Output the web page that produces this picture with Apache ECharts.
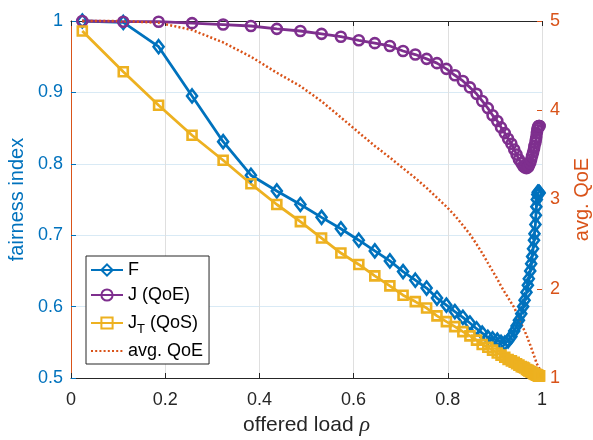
<!DOCTYPE html>
<html><head><meta charset="utf-8">
<script src="https://cdn.jsdelivr.net/npm/echarts@6/dist/echarts.min.js"></script>
<style>html,body{margin:0;padding:0;background:#fff}#c{width:593px;height:440px}</style>
</head><body><div id="c"></div>
<script>
// offered load (x values)
const rho = [0.024,0.111,0.186,0.257,0.323,0.382,0.437,0.487,0.532,0.573,
  0.611,0.645,0.677,0.705,0.731,0.755,0.777,0.797,0.815,0.832,
  0.847,0.861,0.873,0.885,0.895,0.905,0.913,0.921,0.928,0.935,
  0.941,0.946,0.951,0.956,0.960,0.963,0.967,0.970,0.972,0.975,
  0.977,0.979,0.981,0.983,0.984,0.986,0.987,0.988,0.989,0.990,
  0.991,0.992,0.993,0.994,0.995];
// F fairness
const fairF = [1.000,0.998,0.964,0.895,0.831,0.784,0.762,0.743,0.725,0.709,
  0.693,0.678,0.664,0.649,0.637,0.626,0.612,0.602,0.593,0.585,
  0.577,0.569,0.563,0.557,0.555,0.553,0.550,0.549,0.552,0.558,
  0.566,0.573,0.581,0.590,0.600,0.609,0.620,0.630,0.639,0.650,
  0.660,0.670,0.681,0.693,0.702,0.715,0.728,0.740,0.750,0.757,
  0.760,0.760,0.758,0.760,0.759];
// J (QoE)
const fairJ = [1.000,0.999,0.999,0.997,0.995,0.993,0.989,0.986,0.982,0.978,
  0.973,0.969,0.965,0.958,0.953,0.947,0.941,0.933,0.924,0.916,
  0.907,0.898,0.888,0.878,0.868,0.860,0.851,0.843,0.835,0.828,
  0.820,0.813,0.806,0.801,0.797,0.795,0.794,0.795,0.797,0.801,
  0.806,0.811,0.816,0.821,0.825,0.830,0.834,0.838,0.843,0.847,
  0.850,0.852,0.853,0.853,0.853];
// J_T (QoS)
const fairJT = [0.986,0.929,0.882,0.840,0.805,0.772,0.743,0.719,0.696,0.675,
  0.659,0.643,0.629,0.616,0.607,0.598,0.587,0.579,0.572,0.565,
  0.559,0.553,0.547,0.543,0.539,0.535,0.532,0.529,0.526,0.524,
  0.522,0.520,0.518,0.516,0.515,0.514,0.512,0.511,0.510,0.509,
  0.508,0.508,0.507,0.506,0.506,0.505,0.505,0.505,0.504,0.504,
  0.504,0.503,0.503,0.503,0.503];
// avg. QoE (right axis)
const avgQoE = [5.00,5.00,4.98,4.90,4.76,4.60,4.42,4.27,4.10,3.92,
  3.75,3.60,3.47,3.35,3.24,3.13,3.02,2.92,2.82,2.71,
  2.61,2.50,2.40,2.29,2.20,2.11,2.03,1.96,1.90,1.84,
  1.79,1.73,1.67,1.61,1.56,1.53,1.48,1.44,1.41,1.37,
  1.34,1.31,1.28,1.25,1.23,1.21,1.19,1.17,1.16,1.15,
  1.14,1.13,1.12,1.11,1.10];
const seriesNames = ['F','J (QoE)','JT','avg. QoE'];
const xRange = [0, 1, 0.2];
const yLeftRange = [0.5, 1, 0.1];
const yRightRange = [1, 5, 1];

const FONT = "'Liberation Sans', Arial, sans-serif";
const BLUE = '#0072BD', PURPLE = '#7E2F8E', YELLOW = '#EDB120', ORANGE = '#D95319', DARK = '#262626';
const pair = arr => rho.map((x, i) => [x, arr[i]]);

const chart = echarts.init(document.getElementById('c'), null, {renderer: 'canvas'});
chart.setOption({
  animation: false,
  backgroundColor: '#fff',
  grid: {left: 71, right: 51, top: 21, bottom: 62, containLabel: false, outerBoundsMode: 'none'},
  legend: {
    orient: 'vertical', left: 86, top: 256,
    padding: [4, 6, 3, 4], itemGap: 5, itemWidth: 32, itemHeight: 14,
    backgroundColor: '#fff', borderColor: DARK, borderWidth: 1,
    selectedMode: false,
    data: ['F', 'J (QoE)', 'JT',
      {name: 'avg. QoE', itemStyle: {color: 'rgba(0,0,0,0)', borderWidth: 0, opacity: 0}}],
    textStyle: {fontSize: 18, fontFamily: FONT, color: '#000', lineHeight: 20,
      rich: {
        n: {fontSize: 18, fontFamily: FONT, color: '#000', lineHeight: 26, verticalAlign: 'middle'},
        s: {fontSize: 13, fontFamily: FONT, color: '#000', lineHeight: 26, verticalAlign: 'bottom'}
      }},
    formatter: name => name === 'JT' ? '{n|J}{s|T}{n| (QoS)}' : name
  },
  xAxis: [{
    type: 'value', min: xRange[0], max: xRange[1], interval: xRange[2], position: 'bottom',
    name: 'offered load {i|ρ}', nameLocation: 'middle', nameGap: 31,
    nameTextStyle: {fontSize: 21, fontFamily: FONT, color: DARK,
      rich: {i: {fontSize: 22, fontFamily: "'Liberation Serif', serif", fontStyle: 'italic', color: DARK}}},
    axisLine: {show: true, lineStyle: {color: DARK, width: 1}},
    axisTick: {show: true, inside: true, length: 5, lineStyle: {color: DARK}},
    axisLabel: {fontSize: 18, fontFamily: FONT, color: DARK, margin: 13},
    splitLine: {show: true, lineStyle: {color: '#DFDFDF', width: 1}}
  }, {
    type: 'value', min: xRange[0], max: xRange[1], interval: xRange[2], position: 'top',
    axisLine: {show: true, lineStyle: {color: DARK, width: 1}},
    axisTick: {show: true, inside: true, length: 5, lineStyle: {color: DARK}},
    axisLabel: {show: false}, splitLine: {show: false}
  }],
  yAxis: [{
    type: 'value', min: yLeftRange[0], max: yLeftRange[1], interval: yLeftRange[2], position: 'left',
    name: 'fairness index', nameLocation: 'middle', nameGap: 44, nameRotate: 90,
    nameTextStyle: {fontSize: 20, fontFamily: FONT, color: BLUE},
    axisLine: {show: true, lineStyle: {color: BLUE, width: 1}},
    axisTick: {show: true, inside: true, length: 5, lineStyle: {color: BLUE}},
    axisLabel: {fontSize: 18, fontFamily: FONT, color: BLUE, margin: 8},
    splitLine: {show: true, lineStyle: {color: '#D9EAF5', width: 1}}
  }, {
    type: 'value', min: yRightRange[0], max: yRightRange[1], interval: yRightRange[2], position: 'right',
    name: 'avg. QoE', nameLocation: 'middle', nameGap: 30, nameRotate: 90,
    nameTextStyle: {fontSize: 20, fontFamily: FONT, color: ORANGE},
    axisLine: {show: true, lineStyle: {color: ORANGE, width: 1}},
    axisTick: {show: false},
    axisLabel: {fontSize: 18, fontFamily: FONT, color: ORANGE, margin: 8},
    splitLine: {show: false}
  }, {
    type: 'value', min: yRightRange[0], max: yRightRange[1], interval: yRightRange[2], position: 'right',
    axisLine: {show: false},
    axisTick: {show: true, inside: true, length: 5, lineStyle: {color: ORANGE}},
    axisLabel: {show: false}, splitLine: {show: false}
  }],
  series: [{
    name: 'F', type: 'line', xAxisIndex: 0, yAxisIndex: 0, data: pair(fairF),
    symbol: 'diamond', symbolSize: [10, 13], showAllSymbol: true, clip: false,
    lineStyle: {color: BLUE, width: 2.8},
    itemStyle: {color: 'rgba(255,255,255,0)', borderColor: BLUE, borderWidth: 2.6},
    emphasis: {disabled: true}
  }, {
    name: 'J (QoE)', type: 'line', xAxisIndex: 0, yAxisIndex: 0, data: pair(fairJ),
    symbol: 'circle', symbolSize: 10, showAllSymbol: true, clip: false,
    lineStyle: {color: PURPLE, width: 2.8},
    itemStyle: {color: 'rgba(255,255,255,0)', borderColor: PURPLE, borderWidth: 2.6},
    emphasis: {disabled: true}
  }, {
    name: 'JT', type: 'line', xAxisIndex: 0, yAxisIndex: 0, data: pair(fairJT),
    symbol: 'rect', symbolSize: 9, showAllSymbol: true, clip: false,
    lineStyle: {color: YELLOW, width: 2.8},
    itemStyle: {color: 'rgba(255,255,255,0)', borderColor: YELLOW, borderWidth: 2.6},
    emphasis: {disabled: true}
  }, {
    name: 'avg. QoE', type: 'line', xAxisIndex: 0, yAxisIndex: 1, data: pair(avgQoE),
    symbol: 'none', clip: false,
    lineStyle: {color: ORANGE, width: 2.5, type: [2, 2.2]},
    itemStyle: {color: ORANGE},
    emphasis: {disabled: true}
  }]
});
</script></body></html>
